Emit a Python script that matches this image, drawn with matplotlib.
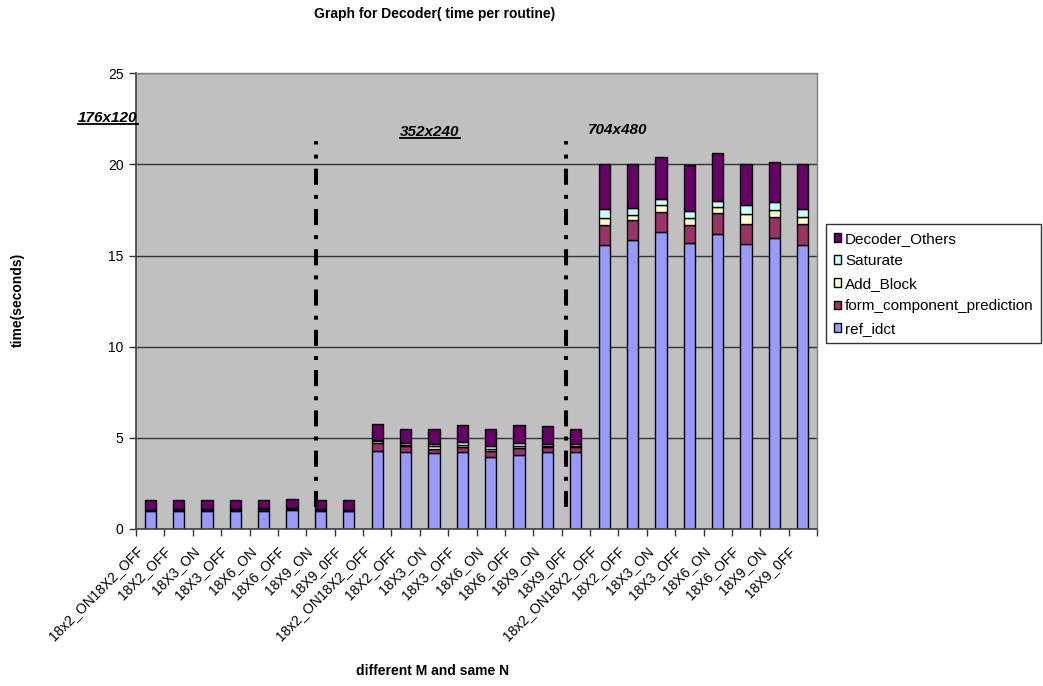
import matplotlib
matplotlib.use("Agg")
import matplotlib.pyplot as plt
from matplotlib.lines import Line2D
from matplotlib.transforms import ScaledTranslation
import numpy as np

plt.rcParams['font.family'] = ['Liberation Sans', 'DejaVu Sans']

# Category labels (three resolutions x eight configurations)
group_labels = ["18x2_ON18X2_OFF", "18X2_OFF", "18X3_ON", "18X3_OFF",
                "18X6_ON", "18X6_OFF", "18X9_ON", "18X9_0FF"]
categories = group_labels * 3

# Time per routine in seconds
ref_idct = [0.97, 0.98, 1.00, 0.97, 1.00, 1.06, 0.97, 0.97,
            4.27, 4.21, 4.18, 4.21, 3.96, 4.08, 4.23, 4.23,
            15.60, 15.88, 16.30, 15.70, 16.17, 15.64, 15.97, 15.57]
form_component_prediction = [0.05, 0.07, 0.05, 0.07, 0.10, 0.04, 0.06, 0.04,
                             0.46, 0.33, 0.22, 0.30, 0.31, 0.37, 0.28, 0.28,
                             1.10, 1.06, 1.10, 1.00, 1.17, 1.10, 1.15, 1.17]
add_block = [0.02, 0.02, 0.02, 0.02, 0.02, 0.02, 0.02, 0.02,
             0.09, 0.08, 0.15, 0.09, 0.13, 0.11, 0.07, 0.07,
             0.37, 0.26, 0.35, 0.37, 0.33, 0.55, 0.39, 0.40]
saturate = [0.02, 0.02, 0.02, 0.02, 0.02, 0.02, 0.02, 0.02,
            0.05, 0.08, 0.14, 0.16, 0.18, 0.14, 0.11, 0.11,
            0.46, 0.40, 0.36, 0.38, 0.35, 0.46, 0.44, 0.44]
decoder_others = [0.51, 0.52, 0.52, 0.53, 0.44, 0.51, 0.54, 0.53,
                  0.90, 0.76, 0.82, 0.92, 0.91, 0.98, 0.95, 0.82,
                  2.47, 2.45, 2.31, 2.50, 2.60, 2.27, 2.20, 2.42]

series = [("ref_idct", ref_idct, "#9999FF"),
          ("form_component_prediction", form_component_prediction, "#993366"),
          ("Add_Block", add_block, "#FFFFCC"),
          ("Saturate", saturate, "#CCFFFF"),
          ("Decoder_Others", decoder_others, "#660066")]

fig = plt.figure(figsize=(10.43, 6.86), dpi=100)
ax = fig.add_axes([136 / 1043, 1 - 529 / 686, 681 / 1043, (529 - 73.3) / 686])
ax.set_facecolor("#C0C0C0")

x = np.arange(len(categories))
bottom = np.zeros(len(categories))
handles = []
for name, vals, color in series:
    b = ax.bar(x, vals, width=0.4, bottom=bottom, color=color,
               edgecolor="black", linewidth=1.0, label=name, zorder=2)
    bottom += np.array(vals)
    handles.append(b)

ax.set_xlim(-0.5, len(categories) - 0.5)
ax.set_ylim(0, 25)
ax.set_yticks([0, 5, 10, 15, 20, 25])
ax.yaxis.grid(True, color="#333333", linewidth=1.0, zorder=1)
ax.set_axisbelow(True)

# tick marks between categories, labels on the category centres
ax.set_xticks(np.arange(len(categories) + 1) - 0.5, minor=True)
ax.set_xticks(x)
ax.set_xticklabels(categories, rotation=45, ha="right", va="center",
                   rotation_mode="anchor", fontsize=10)
ax.tick_params(axis="x", which="major", length=0, pad=10)
ax.tick_params(axis="x", which="minor", length=5, width=1, color="#333333")
ax.tick_params(axis="y", length=5, width=1, color="#333333", labelsize=10, pad=4)
shift = ScaledTranslation(-10 / 100, -6 / 100, fig.dpi_scale_trans)
for lab in ax.get_xticklabels():
    lab.set_transform(lab.get_transform() + shift)

for side in ["left", "bottom"]:
    ax.spines[side].set_color("#404040")
    ax.spines[side].set_linewidth(1.2)
for side in ["top", "right"]:
    ax.spines[side].set_color("#808080")
    ax.spines[side].set_linewidth(1.0)

# separators between the three resolutions
for xs in [5.84, 14.65]:
    ax.plot([xs, xs], [1.2, 21.3], color="black", linewidth=2.9,
            linestyle=(0, (4, 2.5, 1, 2.5)), solid_capstyle="butt",
            dash_capstyle="butt", zorder=4, clip_on=False)

fig.text(0.417, 1 - 14 / 686, "Graph for Decoder( time per routine)",
         ha="center", va="center", fontsize=10, fontweight="bold")
fig.text(18 / 1043, 1 - 300 / 686, "time(seconds)", rotation=90,
         ha="center", va="center", fontsize=10, fontweight="bold")
fig.text(432 / 1043, 1 - 671 / 686, "different M and same N",
         ha="center", va="center", fontsize=10, fontweight="bold")

res_labels = [(78, 122, "176x120", True),
              (400, 136, "352x240", True),
              (588, 134, "704x480", False)]
fig.canvas.draw()
renderer = fig.canvas.get_renderer()
for px, py, txt, underline in res_labels:
    t = fig.text(px / 1043, 1 - py / 686, txt, ha="left", va="baseline",
                 fontsize=11, fontweight="bold", style="italic", zorder=5)
    if underline:
        bb = t.get_window_extent(renderer).transformed(fig.transFigure.inverted())
        uy = 1 - (py + 2) / 686
        fig.add_artist(Line2D([bb.x0, bb.x1], [uy, uy], color="black",
                              linewidth=1.3, transform=fig.transFigure))

leg = fig.legend([handles[i] for i in [4, 3, 2, 1, 0]],
                 [series[i][0] for i in [4, 3, 2, 1, 0]],
                 loc="upper left", bbox_to_anchor=(826 / 1043, 1 - 224 / 686),
                 fontsize=11, frameon=True, fancybox=False, shadow=False,
                 handlelength=0.5, handleheight=0.5, handletextpad=0.25,
                 labelspacing=0.56, borderpad=0.5, borderaxespad=0)
leg.get_frame().set_edgecolor("black")
leg.get_frame().set_linewidth(1.0)

fig.savefig("out.png", dpi=100)
